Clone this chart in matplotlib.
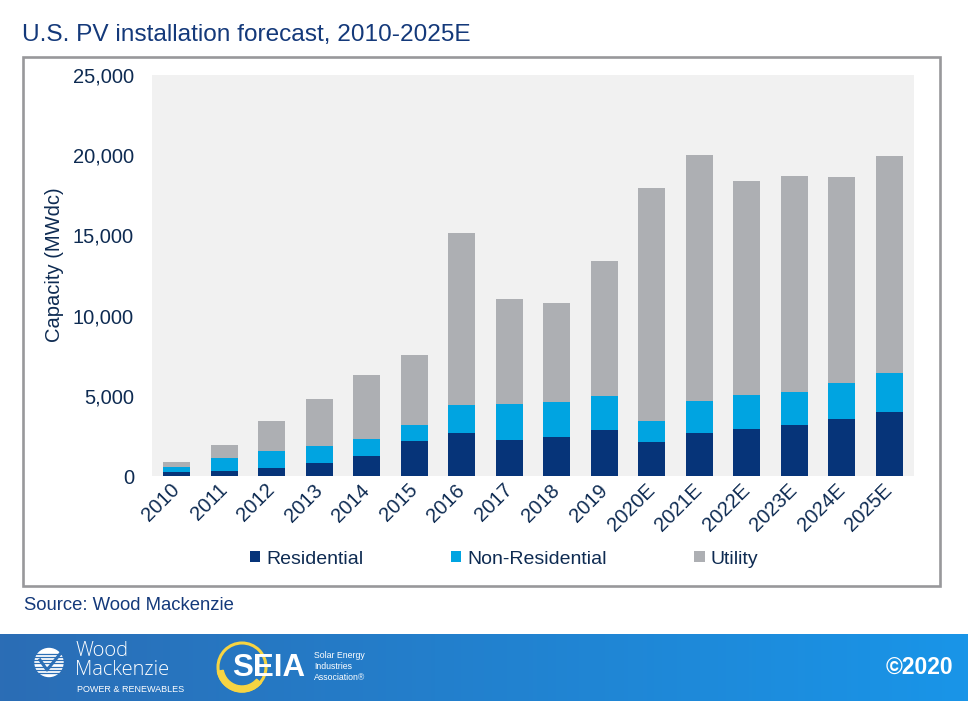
import matplotlib
matplotlib.use("Agg")
import matplotlib.pyplot as plt
import numpy as np
from matplotlib.patches import Rectangle, Circle, Wedge
from matplotlib.ticker import FuncFormatter

plt.rcParams["font.family"] = ["Liberation Sans", "DejaVu Sans"]

# -----------------------------
# DATA (MWdc)
# -----------------------------
years = ["2010", "2011", "2012", "2013", "2014", "2015", "2016", "2017",
         "2018", "2019", "2020E", "2021E", "2022E", "2023E", "2024E", "2025E"]
residential = [270, 310, 500, 810, 1250, 2210, 2650, 2270,
               2420, 2880, 2150, 2690, 2900, 3190, 3560, 3960]
non_residential = [310, 810, 1080, 1060, 1080, 1000, 1750, 2230,
                   2210, 2120, 1310, 1960, 2170, 2060, 2230, 2440]
utility = [310, 790, 1830, 2920, 3960, 4330, 10770, 6520,
           6150, 8420, 14480, 15380, 13330, 13440, 12850, 13560]
y_ticks = [0, 5000, 10000, 15000, 20000, 25000]

# -----------------------------
# STYLE
# -----------------------------
W, H = 968, 701
C_RES = "#063479"
C_NONRES = "#00a4e1"
C_UTIL = "#adafb3"
C_TEXT = "#0e2b52"
C_TITLE = "#14397a"


def fx(px):
    return px / W


def fy(py):
    return 1 - py / H


fig = plt.figure(figsize=(W / 100, H / 100), dpi=100)

# footer banner with left-to-right gradient
ban = fig.add_axes([0, 0, 1, fy(634)])
grad = np.linspace(0, 1, 256)[None, :]
c0 = np.array([0x2b, 0x6d, 0xb5]) / 255
c1 = np.array([0x19, 0x95, 0xe8]) / 255
img = c0[None, None, :] * (1 - grad[..., None]) + c1[None, None, :] * grad[..., None]
ban.imshow(img, aspect="auto", extent=[0, W, 0, H - 634])
ban.set_xlim(0, W)
ban.set_ylim(0, H - 634)
ban.set_axis_off()

# Wood Mackenzie mark: white disc with stripes
ban.add_patch(Circle((49, 38.5), 14, color="white"))
for yy in np.arange(28, 50, 3.2):
    ban.plot([33, 65], [yy, yy], color="#2c6fb6", lw=0.9)
ban.plot([40, 47, 60], [41, 31, 47], color="#2c6fb6", lw=2.2)
ban.text(76, 50, "Wood", color="white", fontsize=14.5, va="center", ha="left",
         family=["Open Sans", "Liberation Sans"], fontweight="light")
ban.text(75, 31, "Mackenzie", color="white", fontsize=14.5, va="center", ha="left",
         family=["Open Sans", "Liberation Sans"], fontweight="light")
ban.text(77, 12, "POWER & RENEWABLES", color="white", fontsize=6.5, va="center", ha="left")

# SEIA mark
ban.add_patch(Circle((242, 34), 24, fill=False, ec="#f6d443", lw=2.2))
ban.add_patch(Wedge((242, 34), 25, 190, 320, width=6, color="#f6d443"))
ban.text(232, 33, "SEIA", color="white", fontsize=22.5, fontweight="bold", va="center", ha="left")
ban.text(314, 45, "Solar Energy", color="white", fontsize=6.3, va="center", ha="left")
ban.text(314, 34.5, "Industries", color="white", fontsize=6.3, va="center", ha="left")
ban.text(314, 24, "Association®", color="white", fontsize=6.3, va="center", ha="left")

ban.text(953, 34, "©2020", color="white", fontsize=16.5, fontweight="bold", va="center", ha="right")

# chart frame
fig.patches.append(Rectangle((fx(23), fy(586)), fx(940) - fx(23), fy(57) - fy(586),
                             transform=fig.transFigure, fill=False,
                             edgecolor="#98989b", linewidth=1.9))

fig.text(fx(22), fy(35), "U.S. PV installation forecast, 2010-2025E",
         color=C_TITLE, fontsize=17.6, va="center", ha="left")
fig.text(fx(24), fy(605), "Source: Wood Mackenzie",
         color=C_TITLE, fontsize=13.3, va="center", ha="left")

# main axes
ax = fig.add_axes([fx(152), fy(476), fx(914) - fx(152), fy(75) - fy(476)])
ax.set_facecolor("#f1f1f1")
x = np.arange(len(years))
res = np.array(residential)
nonres = np.array(non_residential)
util = np.array(utility)
bw = 0.56
b1 = ax.bar(x, res, bw, color=C_RES, label="Residential")
b2 = ax.bar(x, nonres, bw, bottom=res, color=C_NONRES, label="Non-Residential")
b3 = ax.bar(x, util, bw, bottom=res + nonres, color=C_UTIL, label="Utility")

ax.set_xlim(-0.52, 15.52)
ax.set_ylim(0, 25000)
ax.set_yticks(y_ticks)
ax.yaxis.set_major_formatter(FuncFormatter(lambda v, p: f"{int(v):,}"))
ax.set_xticks(x)
ax.set_xticklabels(years, rotation=45, ha="right", va="center", rotation_mode="anchor")
ax.tick_params(axis="y", length=0, pad=13, labelsize=14.5, labelcolor=C_TEXT)
ax.tick_params(axis="x", length=0, pad=8, labelsize=14.5, labelcolor=C_TEXT)
for s in ax.spines.values():
    s.set_visible(False)
ax.set_ylabel("Capacity (MWdc)", fontsize=14.5, color=C_TEXT)
ax.yaxis.set_label_coords((64 - 152) / 762, (476 - 265) / 401)

fig.legend(handles=[b1, b2, b3], loc="center", bbox_to_anchor=(fx(504), fy(559)),
           ncol=3, frameon=False, fontsize=14, handlelength=0.55, handleheight=0.55,
           handletextpad=0.3, columnspacing=4.5, borderpad=0, labelcolor=C_TEXT)

fig.savefig("out.png", dpi=100)
